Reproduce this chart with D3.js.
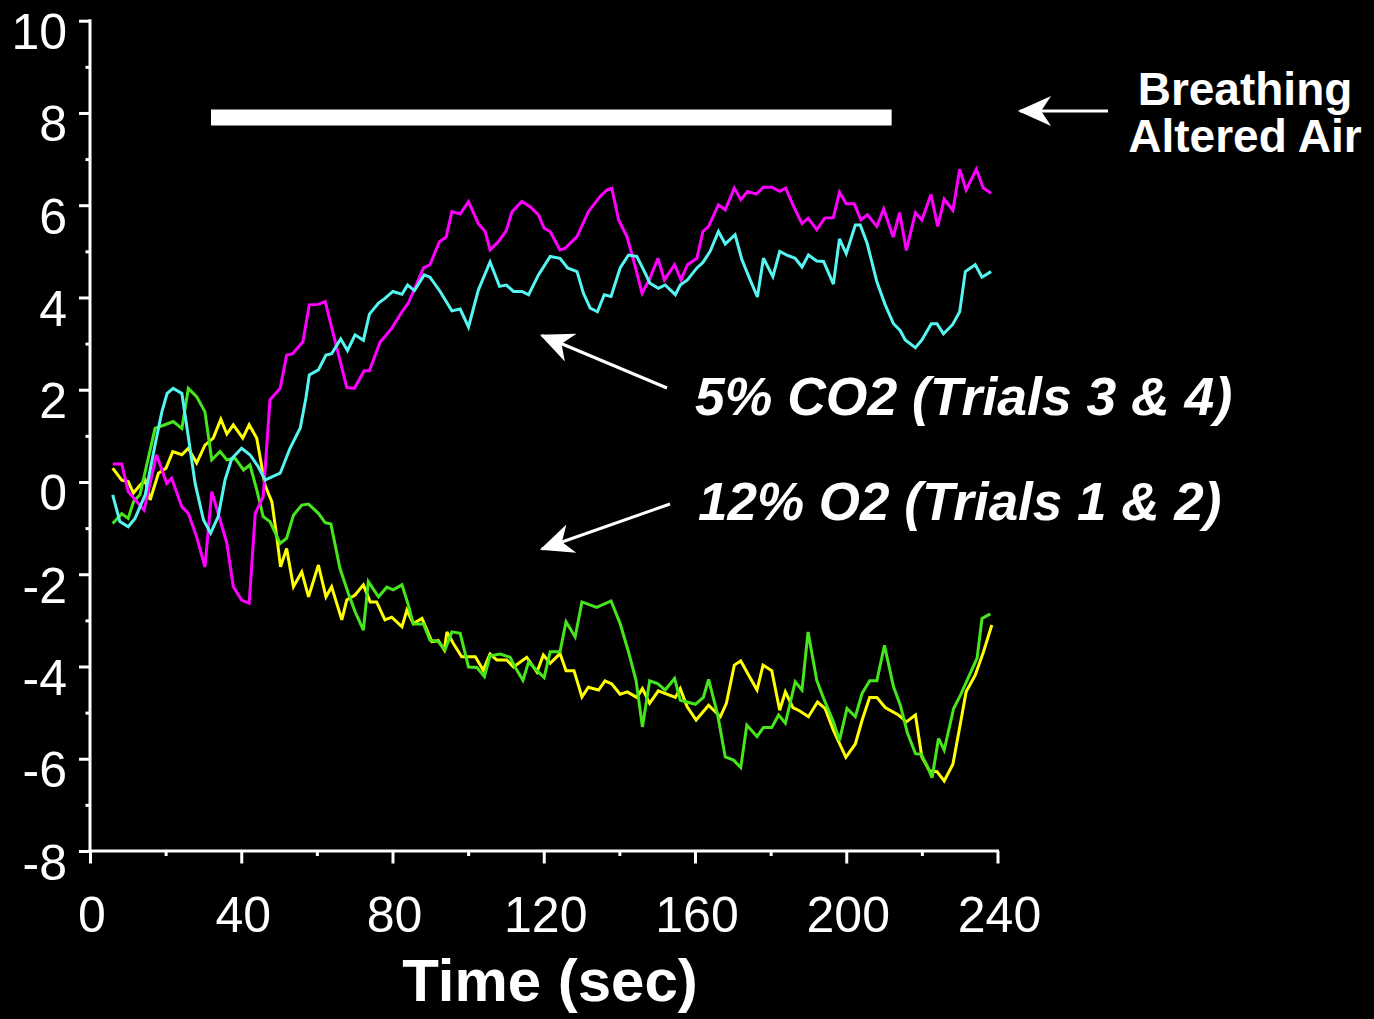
<!DOCTYPE html>
<html>
<head>
<meta charset="utf-8">
<script src="https://cdn.jsdelivr.net/npm/d3@7/dist/d3.min.js"></script>
<style>
  html, body { margin: 0; padding: 0; background: #000; }
  svg { display: block; }
  text { font-family: "Liberation Sans", Arial, Helvetica, sans-serif; fill: #fff; }
</style>
</head>
<body>
<svg id="chart" width="1374" height="1019"></svg>
<script>
// ---------------- data (time in sec, value) ----------------
const xMajorTicks = [0, 40, 80, 120, 160, 200, 240];
const xMinorTicks = [20, 60, 100, 140, 180, 220];
const yMajorTicks = [10, 8, 6, 4, 2, 0, -2, -4, -6, -8];
const yMinorTicks = [9, 7, 5, 3, 1, -1, -3, -5, -7];

const seriesNames = ["CO2 trial 3", "CO2 trial 4", "O2 trial 1", "O2 trial 2"];

const co2Magenta = [[6.0,0.39],[8.4,0.39],[10.1,-0.21],[12.4,-0.43],[14.3,-0.61],[17.6,0.59],[20.3,-0.03],[21.6,0.08],[24.3,-0.54],[26.0,-0.68],[28.2,-1.19],[30.4,-1.84],[32.2,-0.21],[33.9,-0.68],[36.2,-1.33],[37.9,-2.27],[40.1,-2.56],[42.1,-2.63],[43.7,-0.68],[45.8,-0.32],[47.6,1.78],[50.3,2.03],[52.0,2.75],[53.6,2.78],[56.3,3.04],[58.0,3.84],[60.4,3.85],[62.2,3.91],[67.9,2.05],[69.9,2.03],[72.5,2.41],[73.9,2.41],[76.7,3.03],[79.8,3.33],[82.5,3.69],[84.2,3.88],[88.2,4.64],[89.9,4.71],[92.4,5.21],[94.2,5.31],[95.7,5.86],[97.9,5.81],[100.1,6.08],[102.7,5.60],[104.5,5.43],[105.8,5.03],[108.0,5.21],[110.1,5.45],[111.6,5.86],[114.2,6.08],[116.4,5.97],[118.6,5.79],[120.1,5.50],[121.7,5.43],[124.3,5.03],[125.7,5.07],[128.8,5.32],[131.8,5.86],[134.9,6.19],[136.7,6.33],[138.0,6.37],[139.8,5.68],[142.0,5.32],[144.2,4.67],[146.0,4.09],[148.1,4.42],[150.2,4.85],[151.9,4.38],[154.6,4.71],[156.3,4.38],[158.0,4.71],[160.5,4.85],[162.1,5.43],[163.6,5.54],[166.2,6.01],[168.0,5.90],[170.4,6.37],[172.1,6.12],[173.9,6.30],[176.2,6.24],[178.1,6.39],[180.3,6.39],[182.4,6.30],[184.0,6.37],[186.1,5.97],[188.3,5.60],[189.9,5.72],[192.2,5.47],[194.3,5.72],[196.6,5.73],[198.2,6.28],[200.0,6.03],[202.1,6.03],[203.9,5.68],[205.6,5.79],[208.1,5.54],[209.9,5.92],[212.4,5.31],[214.1,5.84],[215.9,5.02],[218.3,5.84],[220.0,5.68],[222.4,6.23],[224.2,5.54],[225.9,6.13],[228.2,5.89],[230.0,6.78],[231.7,6.33],[234.4,6.78],[236.2,6.38],[238.3,6.26]];

const co2Cyan = [[6.0,-0.28],[7.9,-0.86],[10.1,-0.97],[11.9,-0.79],[14.6,-0.28],[17.2,0.80],[19.0,1.52],[20.4,1.92],[22.0,2.03],[24.3,1.92],[26.0,0.98],[27.8,-0.03],[30.0,-0.82],[31.9,-1.11],[33.9,-0.75],[35.7,0.04],[37.5,0.51],[40.1,0.73],[42.3,0.59],[44.5,0.33],[46.3,0.04],[48.1,0.11],[50.3,0.19],[52.9,0.73],[55.6,1.17],[57.1,1.82],[58.0,2.32],[60.4,2.43],[62.4,2.75],[63.9,2.78],[66.3,3.10],[68.1,2.85],[70.1,3.19],[72.3,3.07],[73.9,3.64],[76.3,3.88],[78.0,3.98],[80.1,4.13],[82.5,4.07],[84.0,4.27],[85.8,4.15],[88.4,4.49],[89.9,4.44],[92.6,4.13],[95.7,3.71],[97.9,3.75],[100.1,3.36],[102.7,4.16],[105.8,4.77],[108.3,4.24],[110.1,4.27],[112.0,4.13],[114.2,4.13],[116.0,4.06],[118.6,4.49],[121.7,4.89],[124.3,4.85],[126.3,4.64],[128.8,4.56],[130.5,4.09],[132.3,3.77],[134.2,3.69],[136.0,4.06],[137.8,4.02],[140.2,4.64],[142.4,4.92],[144.6,4.89],[146.4,4.60],[148.1,4.31],[150.3,4.20],[152.1,4.27],[154.8,4.06],[156.1,4.27],[158.0,4.38],[160.5,4.64],[162.1,4.76],[164.0,5.00],[166.2,5.43],[168.0,5.16],[170.6,5.36],[172.4,4.82],[174.4,4.42],[176.5,4.01],[178.1,4.85],[180.6,4.45],[182.4,5.00],[184.3,4.92],[186.5,4.85],[188.3,4.66],[190.0,4.92],[192.2,4.79],[194.0,4.78],[196.6,4.29],[198.2,5.27],[200.0,4.95],[202.4,5.57],[203.7,5.57],[205.5,5.18],[208.1,4.34],[210.3,3.84],[212.5,3.43],[214.3,3.28],[215.6,3.08],[218.3,2.91],[220.0,3.08],[222.5,3.43],[224.0,3.43],[225.7,3.21],[228.1,3.41],[230.0,3.69],[231.5,4.56],[234.1,4.71],[235.9,4.44],[238.3,4.56]];

const o2Green = [[6.0,-0.90],[8.4,-0.69],[10.1,-0.79],[11.5,-0.43],[13.2,-0.28],[17.2,1.16],[19.8,1.24],[22.0,1.31],[24.3,1.16],[26.0,2.03],[28.2,1.85],[30.4,1.52],[32.2,0.48],[34.4,0.66],[36.2,0.48],[38.4,0.51],[40.6,0.26],[42.3,0.37],[44.1,-0.17],[45.8,-0.75],[47.6,-0.86],[50.3,-1.33],[52.0,-1.22],[53.8,-0.72],[56.0,-0.50],[57.8,-0.48],[60.4,-0.68],[62.2,-0.88],[63.7,-0.91],[66.1,-1.87],[68.3,-2.41],[70.1,-2.81],[72.3,-3.21],[73.6,-2.16],[76.3,-2.49],[78.5,-2.28],[80.2,-2.34],[82.5,-2.23],[84.2,-2.67],[85.5,-3.08],[88.2,-3.08],[89.9,-3.43],[92.1,-3.46],[93.9,-3.64],[95.7,-3.25],[97.9,-3.28],[100.1,-4.01],[102.3,-4.02],[104.3,-4.22],[105.8,-3.77],[108.5,-3.73],[111.1,-3.80],[112.4,-4.01],[114.5,-4.30],[116.0,-3.90],[118.2,-4.09],[120.1,-4.24],[121.7,-3.68],[124.3,-3.68],[125.9,-3.03],[128.3,-3.36],[130.1,-2.60],[134.0,-2.72],[137.8,-2.58],[140.2,-3.07],[142.4,-3.68],[144.4,-4.30],[146.1,-5.31],[148.0,-4.31],[150.1,-4.37],[152.1,-4.51],[154.6,-4.26],[156.1,-4.73],[160.1,-4.82],[162.2,-4.67],[163.6,-4.28],[166.0,-5.05],[168.0,-5.96],[170.2,-6.03],[172.1,-6.19],[173.7,-5.27],[176.4,-5.52],[178.1,-5.32],[180.3,-5.32],[182.1,-5.05],[183.9,-5.23],[186.5,-4.33],[188.3,-4.51],[189.9,-3.25],[192.2,-4.30],[194.0,-4.69],[196.6,-5.20],[198.2,-5.60],[200.2,-4.91],[202.4,-5.09],[204.2,-4.58],[206.2,-4.31],[208.1,-4.31],[210.1,-3.54],[212.5,-4.44],[214.3,-4.84],[216.1,-5.42],[218.3,-5.89],[219.8,-5.90],[221.3,-6.14],[222.7,-6.41],[224.4,-5.56],[225.9,-5.81],[228.4,-4.91],[230.2,-4.62],[232.4,-4.22],[234.6,-3.82],[235.9,-2.96],[238.1,-2.86]];

const o2Yellow = [[6.0,0.30],[8.4,0.04],[10.1,0.01],[11.5,-0.24],[13.2,-0.07],[14.6,0.04],[15.9,-0.39],[18.1,0.19],[20.1,0.30],[21.9,0.66],[24.3,0.59],[26.0,0.73],[28.2,0.41],[30.4,0.80],[32.6,0.95],[34.6,1.36],[36.2,1.04],[37.9,1.24],[40.4,0.95],[42.1,1.24],[44.1,0.95],[46.3,-0.07],[48.1,-0.43],[49.4,-1.19],[50.4,-1.84],[52.0,-1.44],[53.8,-2.27],[56.0,-1.95],[57.8,-2.49],[60.4,-1.80],[62.4,-2.49],[63.9,-2.27],[66.6,-2.99],[67.9,-2.56],[70.1,-2.45],[72.3,-2.23],[74.1,-2.60],[75.8,-2.60],[78.0,-2.99],[79.8,-2.93],[82.5,-3.14],[83.8,-2.78],[85.5,-3.07],[87.8,-2.96],[90.4,-3.46],[92.1,-3.44],[93.7,-3.64],[94.4,-3.25],[96.1,-3.50],[98.3,-3.79],[101.9,-3.79],[104.0,-4.08],[105.8,-3.73],[107.6,-3.86],[110.2,-3.86],[112.0,-4.01],[115.5,-3.80],[118.2,-4.12],[119.9,-3.75],[121.7,-3.93],[124.3,-3.72],[125.9,-4.09],[128.0,-4.09],[130.1,-4.66],[131.8,-4.45],[134.5,-4.51],[136.2,-4.31],[138.0,-4.38],[140.2,-4.60],[142.1,-4.55],[144.6,-4.67],[146.1,-4.48],[148.0,-4.80],[150.3,-4.53],[154.8,-4.67],[156.1,-4.48],[157.9,-4.87],[160.3,-5.16],[163.6,-4.84],[166.7,-5.09],[168.3,-4.80],[170.4,-3.97],[172.1,-3.88],[174.2,-4.19],[176.4,-4.51],[178.0,-3.97],[180.3,-4.09],[182.4,-4.95],[183.9,-4.55],[185.9,-4.89],[187.6,-4.96],[190.0,-5.09],[192.4,-4.77],[194.4,-4.91],[196.6,-5.38],[199.9,-5.97],[202.4,-5.68],[204.2,-5.16],[206.2,-4.67],[208.1,-4.67],[210.3,-4.89],[213.8,-5.05],[215.9,-5.20],[218.3,-5.05],[220.0,-5.96],[222.0,-6.26],[224.0,-6.28],[225.9,-6.48],[228.2,-6.12],[230.2,-5.23],[231.7,-4.55],[234.1,-4.19],[236.3,-3.68],[238.5,-3.10]];

// period of breathing altered air (sec) and level where the bar is drawn
const exposureStart = [32];
const exposureEnd = [212];
const exposureLevel = [7.9];

// ---------------- chart ----------------
const svg = d3.select("#chart");
svg.append("rect").attr("width", 1374).attr("height", 1019).attr("fill", "#000");

const x = d3.scaleLinear().domain([0, 240]).range([90, 997.5]);
const y = d3.scaleLinear().domain([-8, 10]).range([851, 20.7]);

const axisColor = "#fff";
const axisW = 3;
const plainFmt = d => String(d);   // hyphen-minus like the original

// Y axis (major)
const yAxisG = svg.append("g").attr("transform", `translate(${x(0)},0)`)
  .call(d3.axisLeft(y).tickValues(yMajorTicks).tickFormat(plainFmt).tickSize(11).tickSizeOuter(0).tickPadding(0));
yAxisG.select(".domain").remove();
yAxisG.selectAll(".tick line").attr("stroke", axisColor).attr("stroke-width", axisW);
yAxisG.selectAll(".tick text")
  .attr("x", -23).attr("dy", null).attr("y", 28)
  .attr("text-anchor", "end")
  .style("font-size", "50px").style("fill", "#fff")
  .attr("font-family", null);
// Y minor
const yMinorG = svg.append("g").attr("transform", `translate(${x(0)},0)`)
  .call(d3.axisLeft(y).tickValues(yMinorTicks).tickSize(4.5).tickSizeOuter(0).tickFormat(""));
yMinorG.select(".domain").remove();
yMinorG.selectAll(".tick line").attr("stroke", axisColor).attr("stroke-width", axisW);

// X axis (major)
const xAxisG = svg.append("g").attr("transform", `translate(0,${y(-8)})`)
  .call(d3.axisBottom(x).tickValues(xMajorTicks).tickFormat(plainFmt).tickSize(12.5).tickSizeOuter(0).tickPadding(0));
xAxisG.select(".domain").remove();
xAxisG.selectAll(".tick line").attr("stroke", axisColor).attr("stroke-width", axisW);
xAxisG.selectAll(".tick text")
  .attr("x", 1.5).attr("y", 81).attr("dy", null)
  .attr("text-anchor", "middle")
  .style("font-size", "50px").style("fill", "#fff")
  .attr("font-family", null);
const xMinorG = svg.append("g").attr("transform", `translate(0,${y(-8)})`)
  .call(d3.axisBottom(x).tickValues(xMinorTicks).tickSize(5).tickSizeOuter(0).tickFormat(""));
xMinorG.select(".domain").remove();
xMinorG.selectAll(".tick line").attr("stroke", axisColor).attr("stroke-width", axisW);

// axis lines
svg.append("line").attr("x1", x(0)).attr("x2", x(0)).attr("y1", y(10) - 1.5).attr("y2", y(-8) + 1.5)
  .attr("stroke", axisColor).attr("stroke-width", axisW);
svg.append("line").attr("x1", x(0) - 1.5).attr("x2", x(240) + 1.5).attr("y1", y(-8)).attr("y2", y(-8))
  .attr("stroke", axisColor).attr("stroke-width", axisW);

// X axis title
svg.append("text").attr("x", 550).attr("y", 1001)
  .attr("text-anchor", "middle")
  .style("font-size", "60px").style("font-weight", "bold")
  .text("Time (sec)");

// exposure bar
svg.append("g").selectAll("line.bar").data(exposureStart).join("line")
  .attr("class", "bar")
  .attr("x1", (d, i) => x(d)).attr("x2", (d, i) => x(exposureEnd[i]))
  .attr("y1", (d, i) => y(exposureLevel[i])).attr("y2", (d, i) => y(exposureLevel[i]))
  .attr("stroke", "#fff").attr("stroke-width", 16);

// data lines
const line = d3.line().x(d => x(d[0])).y(d => y(d[1]));
const series = [
  { name: seriesNames[3], data: o2Yellow, color: "#ffff00" },
  { name: seriesNames[2], data: o2Green, color: "#46e51c" },
  { name: seriesNames[0], data: co2Magenta, color: "#ff00ff" },
  { name: seriesNames[1], data: co2Cyan, color: "#55f6f2" }
];
svg.append("g").selectAll("path.series").data(series).join("path")
  .attr("class", "series")
  .attr("d", d => line(d.data))
  .attr("fill", "none")
  .attr("stroke", d => d.color)
  .attr("stroke-width", 3)
  .attr("stroke-linejoin", "miter")
  .attr("stroke-miterlimit", 3);

// arrow marker
const defs = svg.append("defs");
defs.append("marker").attr("id", "arrowhead")
  .attr("markerUnits", "userSpaceOnUse")
  .attr("markerWidth", 40).attr("markerHeight", 40)
  .attr("refX", 0).attr("refY", 0)
  .attr("viewBox", "-32 -16 36 32")
  .attr("orient", "auto")
  .append("path")
  .attr("d", "M2,0 L-28,-13.5 L-19,0 L-28,13.5 Z")
  .attr("fill", "#fff");

const arrows = [
  { x1: 1108, y1: 111, x2: 1020, y2: 111 },
  { x1: 667, y1: 388, x2: 542, y2: 335.5 },
  { x1: 670, y1: 504, x2: 542, y2: 549 }
];
svg.append("g").selectAll("line.arrow").data(arrows).join("line")
  .attr("class", "arrow")
  .attr("x1", d => d.x1).attr("y1", d => d.y1)
  .attr("x2", d => d.x2).attr("y2", d => d.y2)
  .attr("stroke", "#fff").attr("stroke-width", 3)
  .attr("marker-end", "url(#arrowhead)");

// annotations
const ann = svg.append("g");
ann.append("text").attr("x", 1245).attr("y", 105).attr("text-anchor", "middle")
  .style("font-size", "46px").style("font-weight", "bold").text("Breathing");
ann.append("text").attr("x", 1245).attr("y", 152).attr("text-anchor", "middle")
  .style("font-size", "46px").style("font-weight", "bold").text("Altered Air");
ann.append("text").attr("x", 695).attr("y", 415)
  .style("font-size", "53.5px").style("font-weight", "bold").style("font-style", "italic")
  .text("5% CO2 (Trials 3 & 4)");
ann.append("text").attr("x", 698).attr("y", 520)
  .style("font-size", "53px").style("font-weight", "bold").style("font-style", "italic")
  .text("12% O2 (Trials 1 & 2)");
</script>
</body>
</html>
